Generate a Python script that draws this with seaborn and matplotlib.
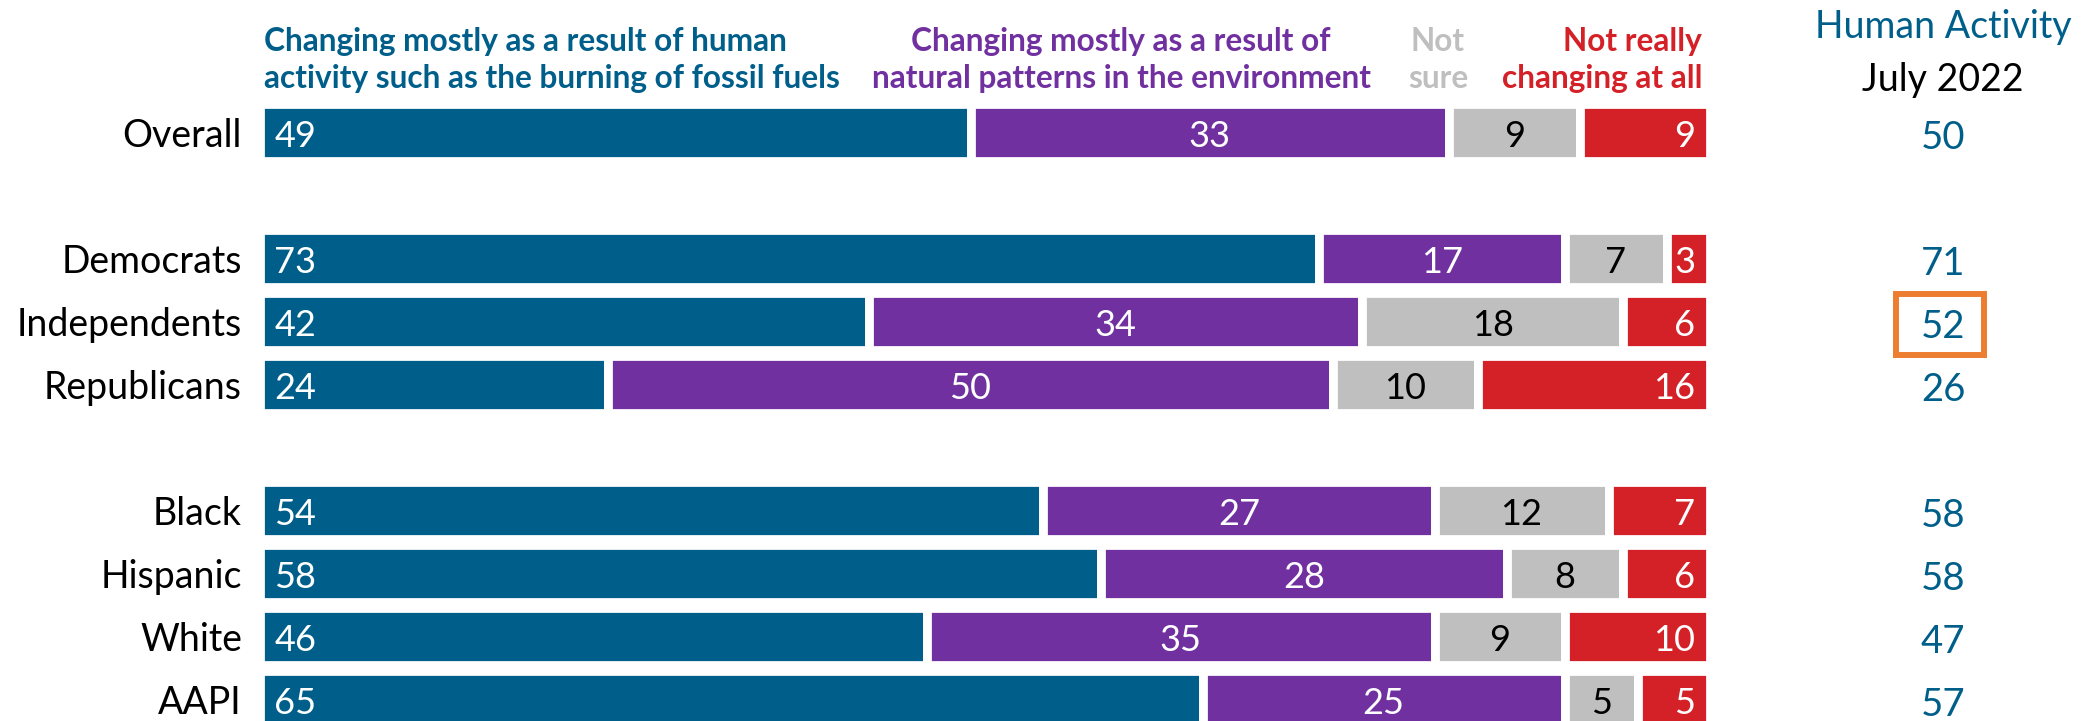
import matplotlib
matplotlib.use("Agg")
import matplotlib.pyplot as plt
import seaborn as sns
import pandas as pd
from matplotlib import font_manager
from matplotlib.patches import Rectangle

# Data
groups = [["Overall"],
          ["Democrats", "Independents", "Republicans"],
          ["Black", "Hispanic", "White", "AAPI"]]
human = [49, 73, 42, 24, 54, 58, 46, 65]
natural = [33, 17, 34, 50, 27, 28, 35, 25]
not_sure = [9, 7, 18, 10, 12, 8, 9, 5]
not_changing = [9, 3, 6, 16, 7, 6, 10, 5]
july_2022 = [50, 71, 52, 26, 58, 58, 47, 57]
highlight = "Independents"

header_human = ["Changing mostly as a result of human",
                "activity such as the burning of fossil fuels"]
header_natural = ["Changing mostly as a result of",
                  "natural patterns in the environment"]
header_unsure = ["Not", "sure"]
header_notchanging = ["Not really", "changing at all"]
col_title = ["Human Activity", "July 2022"]

# Colours
BLUE = "#005F8A"
PURPLE = "#7030A0"
GRAY = "#BFBFBF"
RED = "#D42127"
ORANGE = "#ED7D31"

# rows with an empty line between groups
labels, pos = [], []
p = 0
for g in groups:
    for name in g:
        labels.append(name)
        pos.append(p)
        p += 1
    p += 1

df = pd.DataFrame({"group": labels, "pos": pos, "human": human,
                   "natural": natural, "not_sure": not_sure,
                   "not_changing": not_changing, "july": july_2022})

sns.set_style("white")
names = {f.name for f in font_manager.fontManager.ttflist}
font = "Lato" if "Lato" in names else "DejaVu Sans"
plt.rcParams["font.family"] = [font, "DejaVu Sans"]

# pixel layout helpers (figure is 2095 x 721 px)
W, H = 2095, 721
X0, PXU = 260, 14.5
Y0, ROW = 132.5, 63


def xd(px):
    return (px - X0) / PXU


def yr(px):
    return (px - Y0) / ROW


fig = plt.figure(figsize=(W / 100, H / 100), dpi=100)
ax = fig.add_axes([0, 0, 1, 1])

segments = [("human", BLUE, "white", "left"),
            ("natural", PURPLE, "white", "center"),
            ("not_sure", GRAY, "black", "center"),
            ("not_changing", RED, "white", "right")]

left = pd.Series(0.0, index=df.index)
for col, color, tcolor, align in segments:
    sns.barplot(data=df, x=col, y="pos", orient="y", native_scale=True,
                width=0.916, left=left.values, color=color, edgecolor="white",
                linewidth=6.3, errorbar=None, saturation=1, ax=ax)
    for i in df.index:
        v = df.loc[i, col]
        if align == "left":
            tx = left[i] + 1.0
        elif align == "right":
            tx = left[i] + v - 1.0
        else:
            tx = left[i] + v / 2
        ax.text(tx, df.loc[i, "pos"] + 0.23, str(v), ha=align, va="baseline",
                color=tcolor, fontsize=26)
    left = left + df[col]

# row labels and July 2022 column
for i in df.index:
    ax.text(xd(242), df.loc[i, "pos"] + 0.23, df.loc[i, "group"], ha="right",
            va="baseline", color="black", fontsize=27)
    ax.text(xd(1943), df.loc[i, "pos"] + 0.262, str(df.loc[i, "july"]),
            ha="center", va="baseline", color=BLUE, fontsize=27.5)

# highlight box
hp = df.loc[df["group"] == highlight, "pos"].iloc[0]
ax.add_patch(Rectangle((xd(1896), hp + yr(Y0 - 30.5 + 3)), 88 / PXU, 61 / ROW,
                       fill=False, edgecolor=ORANGE, linewidth=4.3,
                       clip_on=False))

# column headers
head = dict(va="baseline", fontsize=22.8, fontweight="bold")
for k, base in enumerate([51, 88]):
    y = yr(base)
    ax.text(0.25, y, header_human[k], ha="left", color=BLUE, **head)
    ax.text(xd(1121), y, header_natural[k], ha="center", color=PURPLE, **head)
    ax.text(xd(1438), y, header_unsure[k], ha="center", color=GRAY, **head)
    ax.text(xd(1702), y, header_notchanging[k], ha="right", color=RED, **head)

ax.text(xd(1943), yr(38), col_title[0], ha="center", va="baseline",
        color=BLUE, fontsize=27)
ax.text(xd(1943), yr(91), col_title[1], ha="center", va="baseline",
        color="black", fontsize=27)

ax.set_xlim(xd(0), xd(W))
ax.set_ylim(yr(H), yr(0))
ax.axis("off")

fig.savefig("out.png", dpi=100)
